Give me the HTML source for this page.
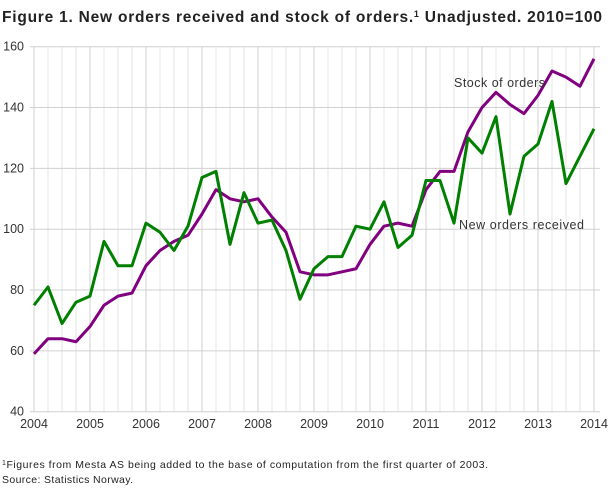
<!DOCTYPE html>
<html><head><meta charset="utf-8"><style>
body{margin:0;background:#fff;width:610px;height:488px;overflow:hidden;font-family:"Liberation Sans",sans-serif}
</style></head><body>
<svg width="610" height="488" xmlns="http://www.w3.org/2000/svg" font-family="Liberation Sans, sans-serif">
<text x="2" y="22" font-size="15.5" font-weight="bold" fill="#222" textLength="600" lengthAdjust="spacing">Figure 1. New orders received and stock of orders.<tspan font-size="9" dy="-5">1</tspan><tspan dy="5"> Unadjusted. 2010=100</tspan></text>
<g id="grid"></g>
<g id="lab" font-size="12.5" fill="#333"></g>
<polyline id="p" fill="none" stroke="#800080" stroke-width="3" stroke-linejoin="round"/>
<polyline id="g" fill="none" stroke="#008000" stroke-width="3" stroke-linejoin="round"/>
<text x="454" y="87" font-size="12.5" fill="#333" textLength="91" lengthAdjust="spacing">Stock of orders</text>
<text x="459" y="229" font-size="12.5" fill="#333" textLength="125" lengthAdjust="spacing">New orders received</text>
<text x="2" y="468" font-size="10.5" fill="#222" textLength="486" lengthAdjust="spacing"><tspan font-size="7" dy="-3">1</tspan><tspan dy="3">Figures from Mesta AS being added to the base of computation from the first quarter of 2003.</tspan></text>
<text x="2" y="483" font-size="10.5" fill="#222" textLength="131" lengthAdjust="spacing">Source: Statistics Norway.</text>
</svg>
<script>
const X=i=>34+i*14, Y=v=>411.7-(v-40)*365/120;
const ns="http://www.w3.org/2000/svg";
const gr=document.getElementById('grid'), lb=document.getElementById('lab');
function el(t,a,p){const e=document.createElementNS(ns,t);for(const k in a)e.setAttribute(k,a[k]);p.appendChild(e);return e;}
for(let i=0;i<=40;i++){el('line',{x1:X(i),x2:X(i),y1:46.7,y2:411.7,stroke:i%4?'#e6e6e6':'#d0d0d0','stroke-width':1},gr);}
for(let v=40;v<=160;v+=20){el('line',{x1:30,x2:600,y1:Y(v),y2:Y(v),stroke:'#d0d0d0','stroke-width':1},gr);
 el('text',{x:24,y:Y(v)+4,'text-anchor':'end'},lb).textContent=v;}
for(let y=0;y<=10;y++){el('text',{x:X(y*4),y:428,'text-anchor':'middle'},lb).textContent=2004+y;}
const gv=[75,81,69,76,78,96,88,88,102,99,93,101,117,119,95,112,102,103,93,77,87,91,91,101,100,109,94,98,116,116,102,130,125,137,105,124,128,142,115,124,133];
const pv=[59,64,64,63,68,75,78,79,88,93,96,98,105,113,110,109,110,104,99,86,85,85,86,87,95,101,102,101,113,119,119,132,140,145,141,138,144,152,150,147,156];
document.getElementById('g').setAttribute('points',gv.map((v,i)=>X(i)+','+Y(v)).join(' '));
document.getElementById('p').setAttribute('points',pv.map((v,i)=>X(i)+','+Y(v)).join(' '));
</script>
</body></html>
